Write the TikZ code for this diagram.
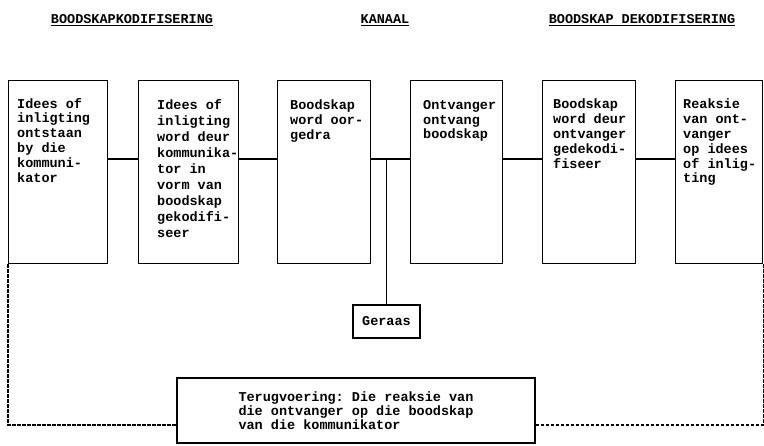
\documentclass[tikz,border=0pt]{standalone}
\usepackage{fontspec}
\setmonofont{Liberation Mono}
\usetikzlibrary{positioning}
\newcommand\strakreel{\setlength{\lineskiplimit}{-20pt}}

\begin{document}
\begin{tikzpicture}[x=1pt,y=1pt,yscale=-1,
  blok/.style={draw, line width=1.2pt, anchor=north west, minimum height=183pt, inner sep=0pt},
  bloktekst/.style={anchor=north west, align=left, inner sep=0pt,
    font=\fontsize{13.5}{14.8}\selectfont\strakreel\ttfamily\bfseries},
  groot/.style={font=\fontsize{13.5}{14}\selectfont\ttfamily\bfseries},
  terug/.style={line width=1.2pt, dash pattern=on 3.5pt off 1.5pt},
  lyn/.style={line width=1.2pt}]
\useasboundingbox (0,0) rectangle (764,446);

% Headings
\node[groot] (kop1) at (132,20) {\underline{BOODSKAPKODIFISERING}};
\node[groot] (kop2) at (385,20) {\underline{KANAAL}};
\node[groot] (kop3) at (642,20) {\underline{BOODSKAP DEKODIFISERING}};

%Shape: boxes
\node[blok, minimum width=99pt] (b1) at (8,80) {};
\node[blok, minimum width=100pt] (b2) at (138,80) {};
\node[blok, minimum width=93pt] (b3) at (277,80) {};
\node[blok, minimum width=92pt] (b4) at (410,80) {};
\node[blok, minimum width=93pt] (b5) at (542,80) {};
\node[blok, minimum width=87pt] (b6) at (675,80) {};

% Text Node
\node[bloktekst] (t1) at ([xshift=9pt,yshift=18pt]b1.north west) {Idees of\\inligting\\ontstaan\\by die\\kommuni-\\kator};
\node[bloktekst, font=\fontsize{13.5}{16}\selectfont\strakreel\ttfamily\bfseries] (t2) at ([xshift=19pt,yshift=19pt]b2.north west) {Idees of\\inligting\\word deur\\kommunika-\\tor in\\vorm van\\boodskap\\gekodifi-\\seer};
\node[bloktekst] (t3) at ([xshift=13pt,yshift=20pt]b3.north west) {Boodskap\\word oor-\\gedra};
\node[bloktekst] (t4) at ([xshift=13pt,yshift=20pt]b4.north west) {Ontvanger\\ontvang\\boodskap};
\node[bloktekst] (t5) at ([xshift=11pt,yshift=19pt]b5.north west) {Boodskap\\word deur\\ontvanger\\gedekodi-\\fiseer};
\node[bloktekst] (t6) at ([xshift=8pt,yshift=19pt]b6.north west) {Reaksie\\van ont-\\vanger\\op idees\\of inlig-\\ting};

%Shape: noise and feedback
\node[draw, line width=1.2pt, groot, minimum width=67pt, minimum height=33pt] (geraas) at (386.5,321.5) {Geraas};
\node[draw, line width=1.2pt, groot, minimum width=358pt, minimum height=65pt, align=left] (terugvoer) at (356,410.5)
  {Terugvoering: Die reaksie van\\die ontvanger op die boodskap\\van die kommunikator};

% connectors
\coordinate (hoog) at (0,159);
\coordinate (laag) at (0,425);
\draw[lyn] (b1.east |- hoog) -- (b2.west |- hoog);
\draw[lyn] (b2.east |- hoog) -- (b3.west |- hoog);
\draw[lyn] (b3.east |- hoog) -- (b4.west |- hoog);
\draw[lyn] (b4.east |- hoog) -- (b5.west |- hoog);
\draw[lyn] (b5.east |- hoog) -- (b6.west |- hoog);
\draw[lyn] (geraas.north |- hoog) -- (geraas.north);
\draw[terug] (b1.south west) -- (b1.south west |- laag) -- (terugvoer.west |- laag);
\draw[terug] (terugvoer.east |- laag) -- (b6.south east |- laag) -- (b6.south east);

\end{tikzpicture}
\end{document}
